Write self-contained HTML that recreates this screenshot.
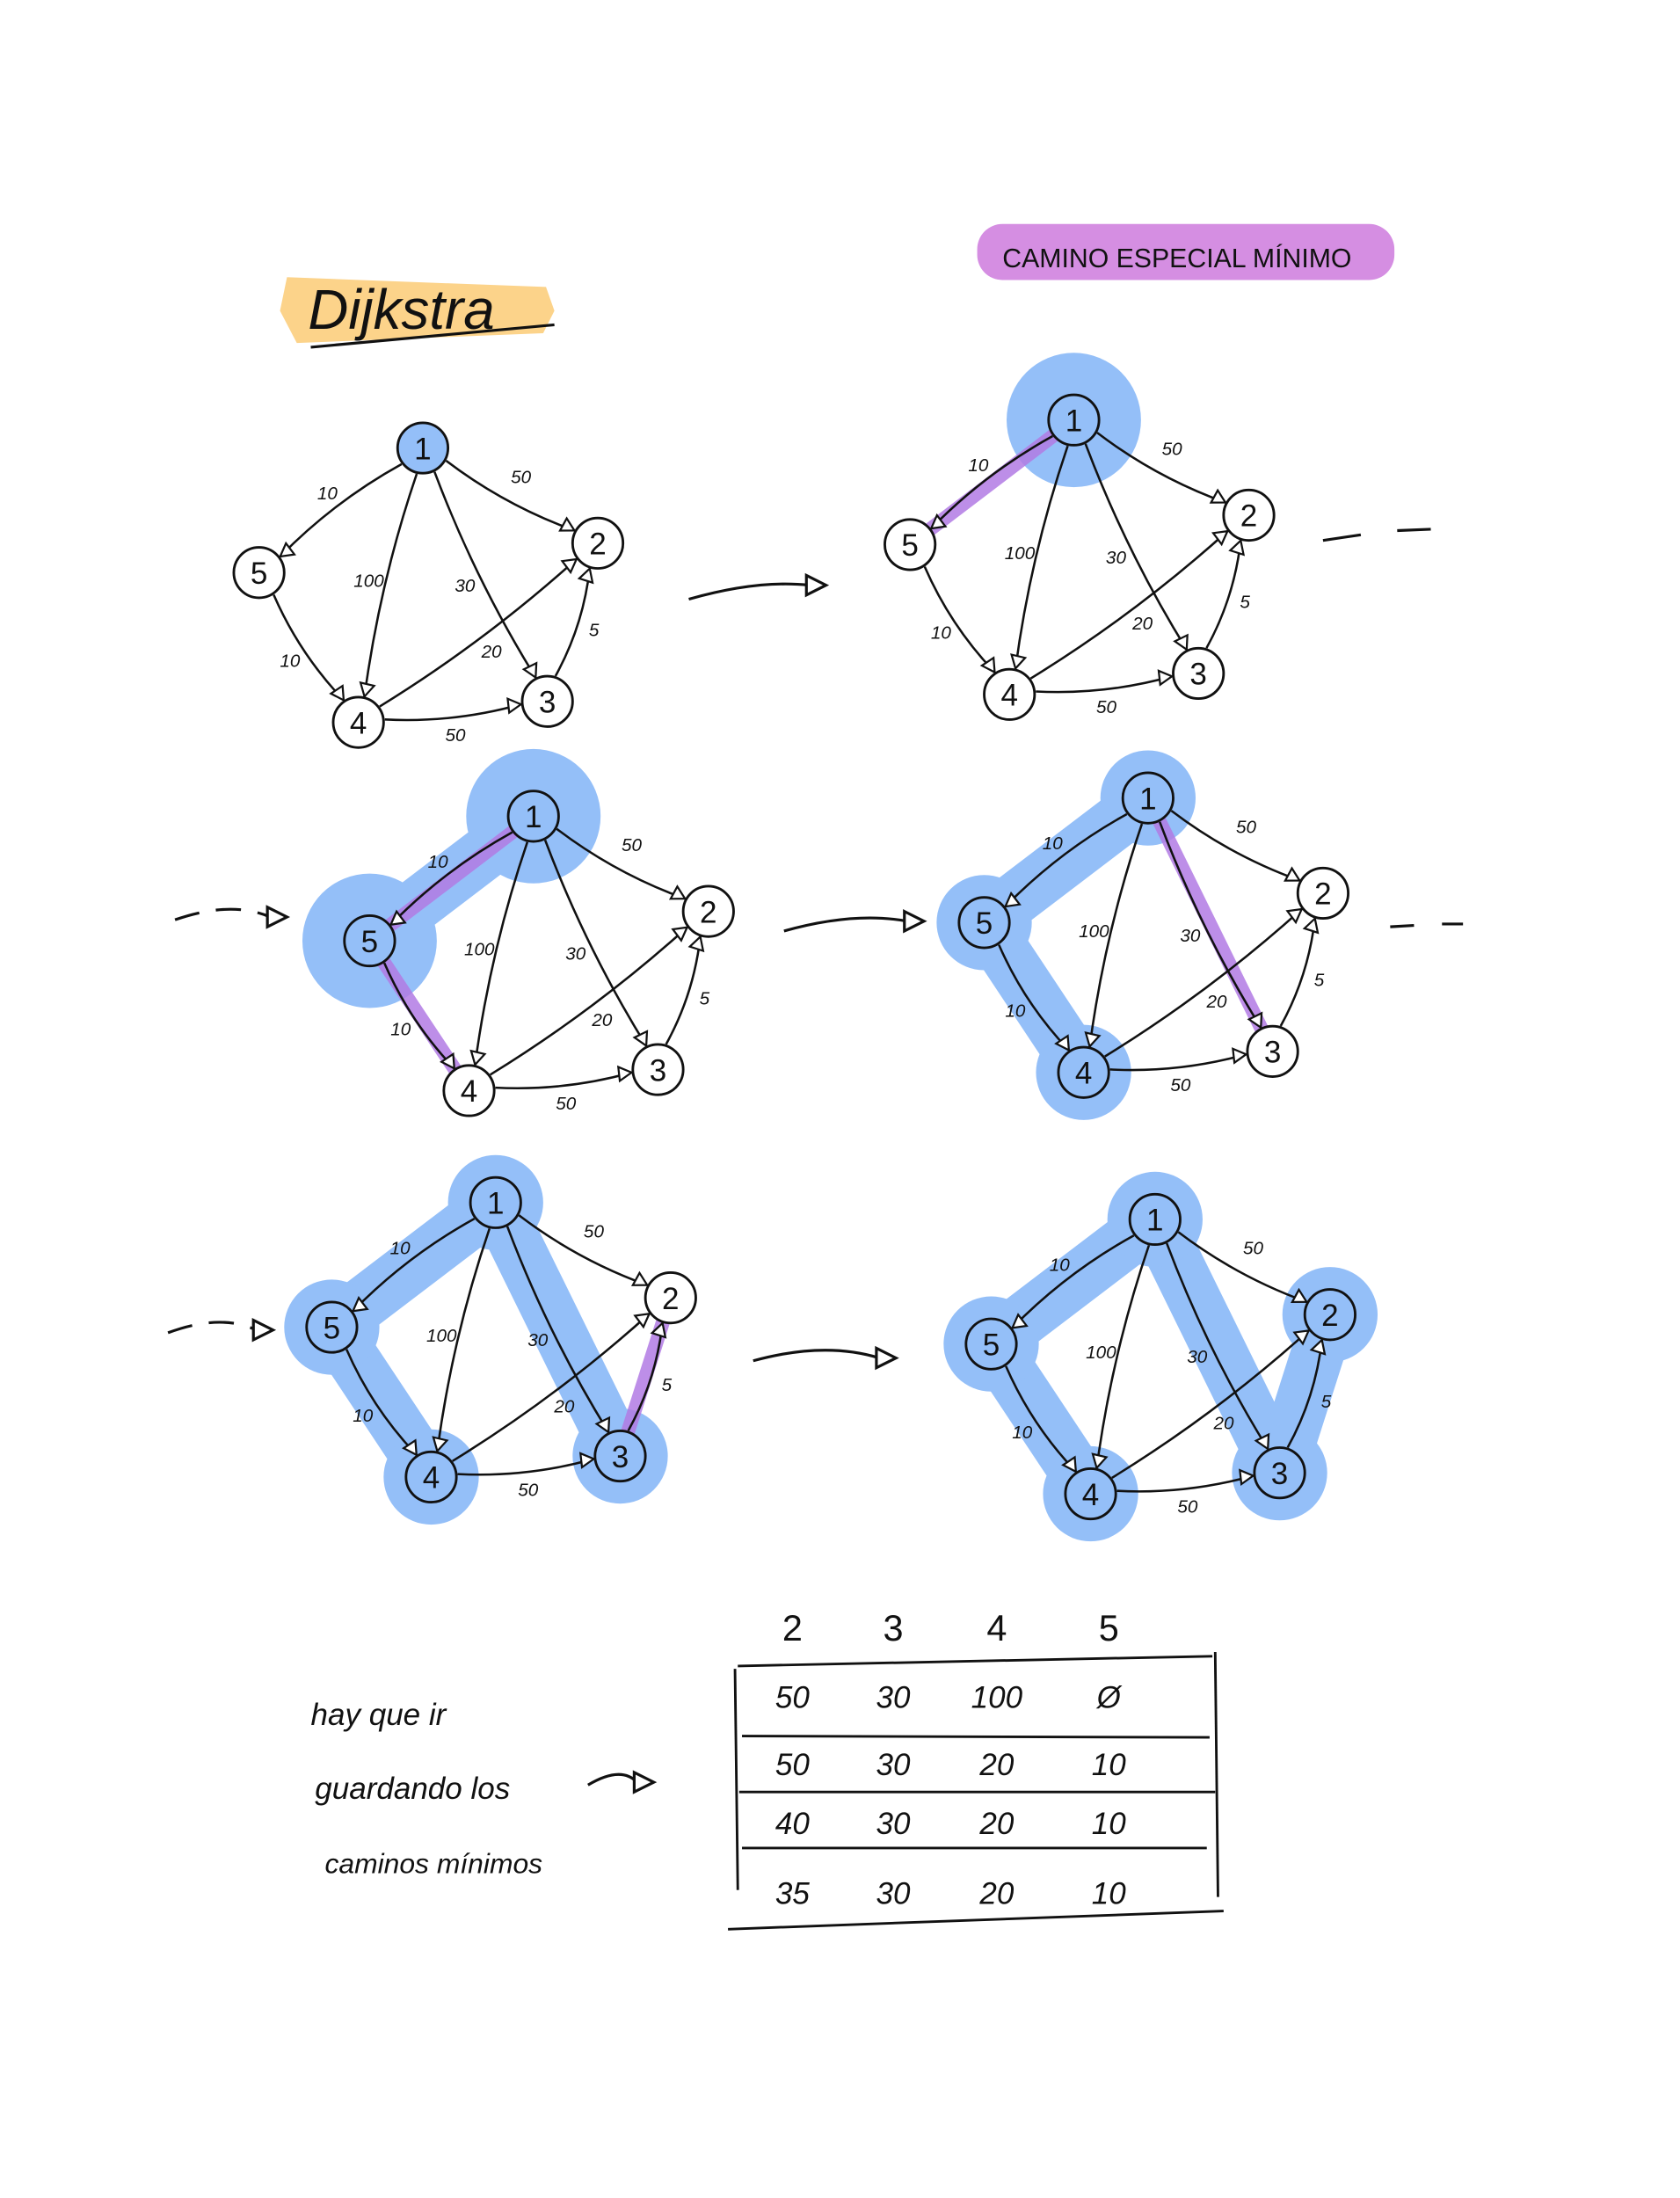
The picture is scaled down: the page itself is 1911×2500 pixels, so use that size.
<!DOCTYPE html>
<html><head><meta charset="utf-8">
<style>
html,body{margin:0;padding:0;background:#fff;}
svg{display:block;}
text{font-family:"Liberation Sans",sans-serif;fill:#111;}
</style></head>
<body>
<svg id="s" width="1911" height="2500" viewBox="0 0 1200 1570" preserveAspectRatio="none" xmlns="http://www.w3.org/2000/svg">
<rect width="1200" height="1570" fill="#fff"/>
<g>
<path d="M205,198 L390,205 L396,222 L388,238 L212,245 L200,222 Z" fill="#fcd38a"/>
<text x="220" y="235" font-size="40" font-style="italic">Dijkstra</text>
<line x1="222" y1="248" x2="396" y2="232" stroke="#111" stroke-width="2"/>
</g>
<g>
<rect x="698" y="160" width="298" height="40" rx="18" fill="#d58ee2"/>
<text x="716" y="191" font-size="19">CAMINO ESPECIAL MÍNIMO</text>
</g>
<g id="graphs"></g>
<g id="arrows" fill="none" stroke="#111" stroke-width="2"></g>
<g font-style="italic">
<text x="222" y="1232" font-size="22">hay que ir</text>
<text x="225" y="1285" font-size="22">guardando los</text>
<text x="232" y="1338" font-size="20">caminos mínimos</text>
</g>
<g id="table"></g>
</svg>
<script>
const NS="http://www.w3.org/2000/svg";
const base={1:[302,320],2:[427,388],3:[391,501],4:[256,516],5:[185,409]};
const edges=[[1,5,"10"],[1,2,"50"],[1,4,"100"],[1,3,"30"],[5,4,"10"],[4,2,"20"],[3,2,"5"],[4,3,"50"]];
const labelSide=[-1,1,-1,-1,-1,-1,-1,-1];
const offsets=[[0,0],[465,-20],[79,263],[518,250],[52,539],[523,551]];
const blueNodes=[[],[1],[1,5],[1,5,4],[1,5,4,3],[1,5,4,3,2]];
const blueEdges=[[],[],[[1,5]],[[1,5],[5,4]],[[1,5],[5,4],[1,3]],[[1,5],[5,4],[1,3],[3,2]]];
const purpleEdges=[[],[[1,5]],[[1,5],[5,4]],[[1,3]],[[3,2]],[]];
const headers=["2","3","4","5"];
const rows=[["50","30","100","Ø"],["50","30","20","10"],["40","30","20","10"],["35","30","20","10"]];
function mk(t,a,p){const e=document.createElementNS(NS,t);for(const k in a)e.setAttribute(k,a[k]);p.appendChild(e);return e;}
const G=document.getElementById("graphs");
offsets.forEach((o,gi)=>{
 const g=mk("g",{},G);
 
 
 const P=n=>[base[n][0]+o[0],base[n][1]+o[1]];
 blueEdges[gi].forEach(([a,b])=>{const A=P(a),B=P(b);mk("line",{x1:A[0],y1:A[1],x2:B[0],y2:B[1],stroke:"#94bff8","stroke-width":38,"stroke-linecap":"round"},g);});
 blueNodes[gi].forEach(n=>{const A=P(n);mk("circle",{cx:A[0],cy:A[1],r:(blueNodes[gi].length<=2)?48:34,fill:"#94bff8"},g);});
 purpleEdges[gi].forEach(([a,b])=>{const A=P(a),B=P(b);mk("line",{x1:A[0],y1:A[1],x2:B[0],y2:B[1],stroke:"#b27be4","stroke-width":10,"stroke-linecap":"round",opacity:0.85},g);});
 edges.forEach(([a,b,l],ei)=>{
  const A=P(a),B=P(b);const dx=B[0]-A[0],dy=B[1]-A[1],d=Math.hypot(dx,dy),ux=dx/d,uy=dy/d,r=19;
  const x1=A[0]+ux*r,y1=A[1]+uy*r,x2=B[0]-ux*r,y2=B[1]-uy*r;
  const e=mk("path",{d:`M${x1},${y1} Q${(x1+x2)/2-uy*8},${(y1+y2)/2+ux*8} ${x2},${y2}`,fill:"none",stroke:"#111","stroke-width":1.6},g);
  
  
  const px=-uy,py=ux;
  mk("path",{d:`M${x2},${y2} L${x2-ux*9+px*5},${y2-uy*9+py*5} L${x2-ux*9-px*5},${y2-uy*9-py*5} Z`,fill:"#fff",stroke:"#111","stroke-width":1.4},g);
  const s=labelSide[ei];
  const t=mk("text",{x:(x1+x2)/2+s*uy*16,y:(y1+y2)/2-s*ux*16+5,"font-size":13,"font-style":"italic","text-anchor":"middle"},g);t.textContent=l;
  
  
 });
 [1,2,3,4,5].forEach(n=>{const A=P(n);
  const fill=(blueNodes[gi].includes(n)||(gi===0&&n===1))?"#94bff8":"#fff";
  const c=mk("circle",{cx:A[0],cy:A[1],r:18,fill:fill,stroke:"#111","stroke-width":1.8},g);
  
  
  const t=mk("text",{x:A[0],y:A[1]+8,"font-size":22,"text-anchor":"middle"},g);t.textContent=n;});
});
const AR=document.getElementById("arrows");
const arrows=[[492,428,590,418,false],[125,657,205,655,true],[560,665,660,658,false],[120,952,195,950,true],[538,972,640,970,false],[420,1275,467,1273,false]];
arrows.forEach(([x1,y1,x2,y2,d],i)=>{
 const p=mk("path",{d:`M${x1},${y1} Q${(x1+x2)/2},${y1-14} ${x2-12},${y2}`,"stroke-dasharray":d?"18 12":"none"},AR);
 
 
 mk("path",{d:`M${x2-14},${y2-7} L${x2},${y2} L${x2-14},${y2+7} Z`,fill:"#fff"},AR);
});
mk("path",{d:"M945,386 L972,382 M998,379 L1022,378 M993,662 L1010,661 M1030,660 L1045,660"},AR);
const T=document.getElementById("table");
const cols=[566,638,712,792];
headers.forEach((h,i)=>{const t=mk("text",{x:cols[i],y:1172,"font-size":26,"text-anchor":"middle"},T);t.textContent=h;});
const ry=[1220,1268,1310,1360];
rows.forEach((r,ri)=>r.forEach((v,ci)=>{const t=mk("text",{x:cols[ci],y:ry[ri],"font-size":22,"font-style":"italic","text-anchor":"middle"},T);t.textContent=v;}));
[[527,1190,866,1183],[530,1240,864,1241],[528,1280,868,1280],[530,1320,862,1320],[520,1378,874,1365]].forEach(l=>mk("line",{x1:l[0],y1:l[1],x2:l[2],y2:l[3],stroke:"#111","stroke-width":1.8},T));
[[525,1192,527,1350],[868,1180,870,1355]].forEach(l=>mk("line",{x1:l[0],y1:l[1],x2:l[2],y2:l[3],stroke:"#111","stroke-width":1.8},T));
</script>
</body></html>
